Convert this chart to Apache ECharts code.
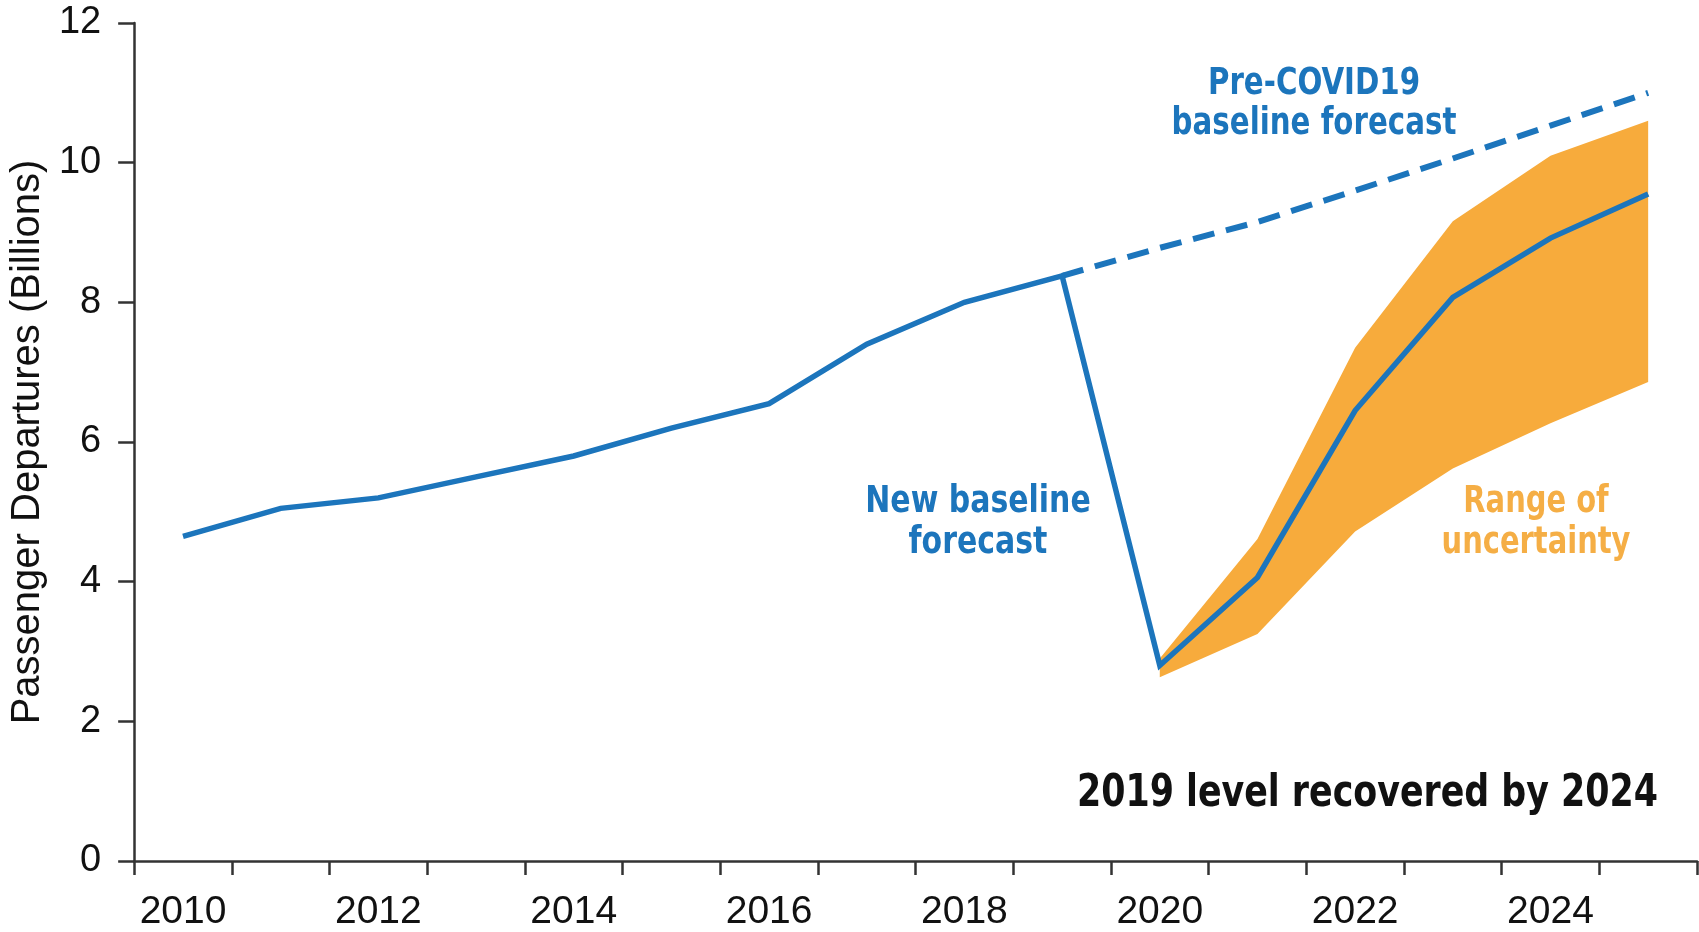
<!DOCTYPE html>
<html>
<head>
<meta charset="utf-8">
<script src="https://cdn.jsdelivr.net/npm/echarts@6/dist/echarts.min.js"></script>
<style>
html,body{margin:0;padding:0;background:#fff;}
#chart{width:1699px;height:932px;}
</style>
</head>
<body>
<div id="chart"></div>
<script>
const years = ['2010','2011','2012','2013','2014','2015','2016','2017','2018','2019','2020','2021','2022','2023','2024','2025'];
const newBaseline = [4.65, 5.05, 5.2, 5.5, 5.8, 6.2, 6.55, 7.4, 8.0, 8.38, 2.8, 4.06, 6.45, 8.07, 8.92, 9.55];
const preCovid = [null, null, null, null, null, null, null, null, null, 8.38, 8.78, 9.15, 9.6, 10.06, 10.53, 11.0];
const rangeLow = [null, null, null, null, null, null, null, null, null, null, 2.63, 3.25, 4.72, 5.62, 6.27, 6.86];
const rangeHigh = [null, null, null, null, null, null, null, null, null, null, 2.9, 4.61, 7.35, 9.16, 10.1, 10.6];
const yTicks = [0, 2, 4, 6, 8, 10, 12];

const rangeDiff = rangeHigh.map((v, i) => (v == null || rangeLow[i] == null) ? null : +(v - rangeLow[i]).toFixed(3));

const BLUE = '#1c75bc';
const ORANGE = '#f7ab3c';
const bold = "'DejaVu Sans Condensed', 'DejaVu Sans', sans-serif";
const sans = "'Liberation Sans', Arial, sans-serif";

const chart = echarts.init(document.getElementById('chart'));
chart.setOption({
  animation: false,
  backgroundColor: '#fff',
  grid: { left: 130, right: 2, top: 23, bottom: 67 },
  xAxis: {
    type: 'category',
    data: years,
    boundaryGap: true,
    axisLine: { lineStyle: { color: '#333', width: 2.5 } },
    axisTick: { show: true, interval: 0, length: 14, lineStyle: { color: '#333', width: 2.5 } },
    axisLabel: { interval: 1, fontSize: 39, color: '#111', margin: 32, fontFamily: sans }
  },
  yAxis: {
    type: 'value',
    min: yTicks[0], max: yTicks[yTicks.length - 1], interval: 2,
    name: 'Passenger Departures (Billions)',
    nameLocation: 'middle',
    nameGap: 81,
    nameTextStyle: { fontSize: 40, color: '#111', fontFamily: sans },
    axisLine: { show: true, lineStyle: { color: '#333', width: 2.5 } },
    axisTick: { show: true, length: 16, lineStyle: { color: '#333', width: 2.5 } },
    splitLine: { show: false },
    axisLabel: { fontSize: 38, color: '#111', margin: 33, fontFamily: sans }
  },
  series: [
    {
      name: 'low', type: 'line', stack: 'band', data: rangeLow,
      symbol: 'none', lineStyle: { opacity: 0 }, z: 1, silent: true
    },
    {
      name: 'Range of uncertainty', type: 'line', stack: 'band', data: rangeDiff,
      symbol: 'none', lineStyle: { opacity: 0 }, areaStyle: { color: ORANGE, opacity: 1 }, z: 1, silent: true
    },
    {
      name: 'Pre-COVID19 baseline forecast', type: 'line', data: preCovid,
      symbol: 'none', lineStyle: { color: BLUE, width: 6, type: [22, 12] }, z: 3
    },
    {
      name: 'New baseline forecast', type: 'line', data: newBaseline,
      symbol: 'none', lineStyle: { color: BLUE, width: 5.5, join: 'miter' }, z: 4
    }
  ],
  graphic: [
    { type: 'text', x: 1314, y: 104, scaleX: 0.88, style: { text: 'Pre-COVID19\nbaseline forecast', fill: BLUE, font: "bold 37px " + bold, align: 'center', verticalAlign: 'middle', lineHeight: 40 } },
    { type: 'text', x: 978, y: 523, scaleX: 0.9, style: { text: 'New baseline\nforecast', fill: BLUE, font: "bold 37px " + bold, align: 'center', verticalAlign: 'middle', lineHeight: 41 } },
    { type: 'text', x: 1536, y: 523, scaleX: 0.87, style: { text: 'Range of\nuncertainty', fill: '#f5ae45', font: "bold 37px " + bold, align: 'center', verticalAlign: 'middle', lineHeight: 41 } },
    { type: 'text', x: 1658, y: 794, scaleX: 0.86, style: { text: '2019 level recovered by 2024', fill: '#111', font: "bold 45px " + bold, align: 'right', verticalAlign: 'middle' } }
  ]
});
</script>
</body>
</html>
